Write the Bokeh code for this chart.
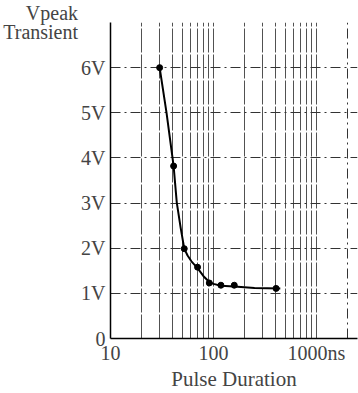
from bokeh.plotting import figure
from bokeh.models import FixedTicker, Grid, Range1d
from bokeh.embed import file_html
from bokeh.resources import INLINE

# measured points
pulse_ns = [30, 41, 52, 70, 91, 118, 159, 405]
vpeak = [6.0, 3.82, 1.99, 1.58, 1.23, 1.18, 1.18, 1.11]

# fitted curve
curve_ns = [30, 35, 41, 44, 48, 52, 56, 61, 70, 80, 91, 100, 118, 159, 250, 445]
curve_v = [6.0, 5.0, 3.82, 3.01, 2.45, 1.99, 1.84, 1.71, 1.56, 1.38, 1.25, 1.21, 1.17, 1.15, 1.12, 1.11]

x_tick_vals = [10, 100, 1000]
x_tick_labels = ["10", "100", "1000ns"]
y_tick_vals = [0, 1, 2, 3, 4, 5, 6]
y_tick_labels = ["0", "1V", "2V", "3V", "4V", "5V", "6V"]
x_grid_vals = [20, 30, 40, 50, 60, 70, 80, 90, 100, 200, 300, 400, 500, 600, 700, 800, 900, 1000]
x_grid_dash_vals = [2000]
y_grid_vals = [1, 2, 3, 4, 5, 6, 7]
y_title = "Vpeak\nTransient"

FONT = "Liberation Serif"

p = figure(width=358, height=393, x_axis_type="log",
           x_range=Range1d(10, 2500), y_range=Range1d(0, 7),
           output_backend="svg", toolbar_location=None,
           min_border_left=106, min_border_top=22, min_border_right=1,
           min_border_bottom=30)
p.outline_line_color = None
p.background_fill_color = "white"
p.border_fill_color = "white"

p.xgrid.visible = False
p.ygrid.visible = False

vg = Grid(dimension=0, ticker=FixedTicker(ticks=x_grid_vals),
          grid_line_color="#333333", grid_line_width=1, grid_line_alpha=0.85,
          grid_line_dash="24 2")
vg2 = Grid(dimension=0, ticker=FixedTicker(ticks=x_grid_dash_vals),
           grid_line_color="#333333", grid_line_width=1, grid_line_dash="10 4 2 4")
hg = Grid(dimension=1, ticker=FixedTicker(ticks=y_grid_vals),
          grid_line_color="#333333", grid_line_width=1, grid_line_dash="10 4 2 4")
p.add_layout(vg)
p.add_layout(vg2)
p.add_layout(hg)

xa = p.xaxis[0]
xa.ticker = FixedTicker(ticks=x_tick_vals)
xa.major_label_overrides = {v: l for v, l in zip(x_tick_vals, x_tick_labels)}
xa.axis_label = "Pulse Duration"
xa.axis_label_text_font = FONT
xa.axis_label_text_font_style = "normal"
xa.axis_label_text_font_size = "21px"
xa.axis_label_standoff = 0
xa.major_label_text_font = FONT
xa.major_label_text_font_size = "20px"
xa.major_label_standoff = 3
xa.major_tick_out = 0
xa.major_tick_in = 0
xa.minor_tick_out = 0
xa.minor_tick_in = 0
xa.major_tick_line_color = None
xa.minor_tick_line_color = None
xa.axis_line_color = "black"
xa.axis_line_width = 1.5

ya = p.yaxis[0]
ya.ticker = FixedTicker(ticks=y_tick_vals)
ya.major_label_overrides = {v: l for v, l in zip(y_tick_vals, y_tick_labels)}
ya.major_label_text_font = FONT
ya.major_label_text_font_size = "20px"
ya.major_label_standoff = 5
ya.major_tick_out = 0
ya.major_tick_in = 0
ya.minor_tick_out = 0
ya.minor_tick_in = 0
ya.major_tick_line_color = None
ya.minor_tick_line_color = None
ya.axis_line_color = "black"
ya.axis_line_width = 1.5
ya.axis_label = y_title
ya.axis_label_orientation = "horizontal"
ya.axis_label_align = "end"
ya.axis_label_standoff = 0
ya.axis_label_text_font = FONT
ya.axis_label_text_font_style = "normal"
ya.axis_label_text_font_size = "20px"
ya.axis_label_text_align = "left"
ya.axis_label_text_line_height = 0.9

p.line(curve_ns, curve_v, line_color="black", line_width=2)
p.scatter(pulse_ns, vpeak, size=6, color="black")

open("out.html", "w").write(file_html(p, INLINE))
